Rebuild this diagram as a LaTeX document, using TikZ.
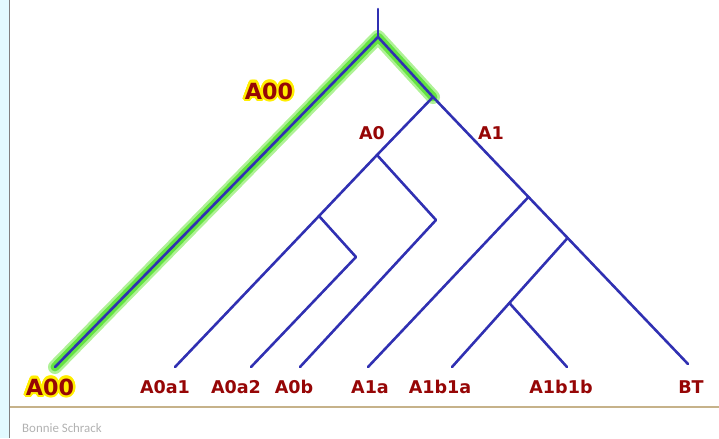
\documentclass[tikz,border=0pt]{standalone}
\usepackage{fontspec}
\usepackage{contour}
\usetikzlibrary{calc}
\newfontfamily\fuenteetiq{DejaVu Sans Bold}
\newfontfamily\fuentefirma{Carlito}
\definecolor{azul}{RGB}{48,48,178}
\definecolor{rojo}{RGB}{150,6,6}
\definecolor{verde}{RGB}{100,226,66}
\definecolor{verdeclaro}{RGB}{175,242,150}
\definecolor{brillo}{RGB}{255,238,0}
\definecolor{arena}{RGB}{198,178,138}
\definecolor{cian}{RGB}{226,250,255}
\contourlength{2.1pt}

\begin{document}
\begin{tikzpicture}[x=0.03cm, y=-0.03cm, line cap=round, line join=round,
  rama/.style={draw=azul, line width=2.2pt},
  etiqueta/.style={text=rojo, font=\fuenteetiq\fontsize{15}{15}\selectfont, inner sep=0pt, anchor=base},
  grande/.style={etiqueta, font=\fuenteetiq\fontsize{19}{19}\selectfont},
  firma/.style={text=black!30, font=\fuentefirma\fontsize{11}{11}\selectfont, inner sep=0pt, anchor=base west}]
  \useasboundingbox (0,0) rectangle (719,438);
  % el margen izquierdo y la linea de abajo
  \fill[cian] (0,0) rectangle (9,438);
  \draw[black!50, line width=1.1pt, line cap=butt] (9.5,0) -- (9.5,438);
  \draw[arena, line width=2.4pt, line cap=butt] (10,407) -- (719,407);
  \node[firma] (autora) at (22,432) {Bonnie Schrack};
  % los nudos y las hojas del arbol
  \coordinate (cima) at (378,9);
  \coordinate (raiz) at (378,37);
  \coordinate (nA) at (433,97);
  \coordinate (nA0) at (377,155);
  \coordinate (nA0a) at (319,216);
  \coordinate (cA0a2) at (356,257);
  \coordinate (cA0b) at (436,220);
  \coordinate (hA00) at (55,367);
  \coordinate (hA0a1) at (175,367);
  \coordinate (hA0a2) at (251,367);
  \coordinate (hA0b) at (300,367);
  \coordinate (hA1a) at (368,367);
  \coordinate (hA1b1a) at (452,367);
  \coordinate (hA1b1b) at (567,367);
  \coordinate (hBT) at (688,364);
  \coordinate (nA1a) at ($(nA)!0.3745!(hBT)$);
  \coordinate (nA1b) at ($(nA)!0.528!(hBT)$);
  \coordinate (nA1b1) at ($(nA1b)!0.504!(hA1b1a)$);
  % el camino resaltado en verde
  \draw[verdeclaro, line width=12pt] (hA00) -- (raiz) -- (nA);
  \draw[verde, line width=7.5pt] (hA00) -- (raiz) -- (nA);
  % las ramas
  \draw[rama] (cima) -- (raiz);
  \draw[rama] (raiz) -- (hA00);
  \draw[rama] (raiz) -- (nA) -- (hBT);
  \draw[rama] (nA) -- (nA0) -- (nA0a) -- (hA0a1);
  \draw[rama] (nA0a) -- (cA0a2) -- (hA0a2);
  \draw[rama] (nA0) -- (cA0b) -- (hA0b);
  \draw[rama] (nA1a) -- (hA1a);
  \draw[rama] (nA1b) -- (nA1b1) -- (hA1b1a);
  \draw[rama] (nA1b1) -- (hA1b1b);
  % los nombres
  \node[grande] (tA00) at (269,99) {\contour{brillo}{A00}};
  \node[etiqueta] (tA0) at (372,139) {A0};
  \node[etiqueta] (tA1) at (491,139) {A1};
  \node[grande] (tA00b) at (50,395) {\contour{brillo}{A00}};
  \node[etiqueta] (tA0a1) at (165,393) {A0a1};
  \node[etiqueta] (tA0a2) at (236,393) {A0a2};
  \node[etiqueta] (tA0b) at (294,393) {A0b};
  \node[etiqueta] (tA1a) at (370,393) {A1a};
  \node[etiqueta] (tA1b1a) at (440,393) {A1b1a};
  \node[etiqueta] (tA1b1b) at (561,393) {A1b1b};
  \node[etiqueta] (tBT) at (691,393) {BT};
\end{tikzpicture}
\end{document}
